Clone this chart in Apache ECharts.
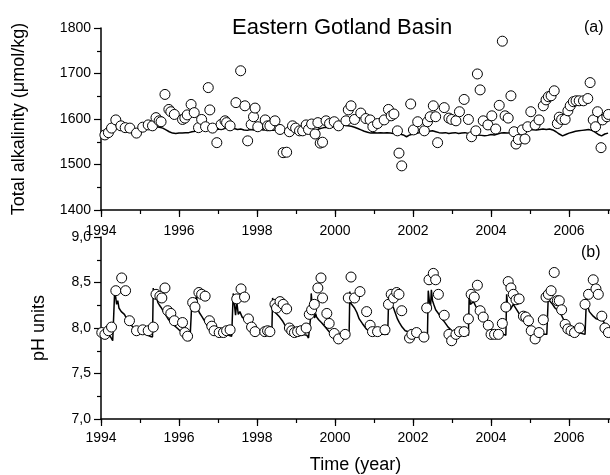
<!DOCTYPE html>
<html>
<head>
<meta charset="utf-8">
<script src="https://cdn.jsdelivr.net/npm/echarts@6/dist/echarts.min.js"></script>
<style>
html,body{margin:0;padding:0;background:#fff;}
#chart{width:610px;height:475px;}
</style>
</head>
<body>
<div id="chart"></div>
<script>
// ---- Data ----
const titleText = "Eastern Gotland Basin";
const xTickYears = [1994, 1996, 1998, 2000, 2002, 2004, 2006];

// Model total alkalinity (monthly), µmol/kg, starting Jan 1994
const alkModel = [
 1568,1564,1567,1574,1580,1584,1580,1576,1575,1572,1570,1569,
 1571,1574,1578,1580,1581,1583,1582,1580,1576,1572,1569,1568,
 1569,1569,1570,1570,1572,1573,1578,1581,1579,1576,1575,1576,
 1578,1577,1579,1580,1578,1579,1577,1578,1576,1575,1577,1576,
 1578,1577,1576,1577,1576,1575,1577,1576,1575,1576,1577,1576,
 1575,1574,1575,1577,1578,1576,1574,1578,1580,1582,1581,1583,
 1584,1585,1587,1586,1585,1584,1582,1579,1576,1573,1571,1569,
 1570,1569,1570,1569,1570,1569,1568,1568,1567,1565,1561,1565,
 1567,1568,1570,1572,1571,1573,1574,1572,1570,1569,1570,1568,
 1569,1570,1568,1569,1570,1568,1567,1566,1565,1564,1563,1564,
 1566,1565,1567,1569,1570,1569,1570,1572,1571,1573,1574,1575,
 1576,1577,1576,1577,1578,1577,1578,1576,1572,1567,1563,1566,
 1569,1571,1573,1574,1575,1576,1577,1575,1571,1566,1563,1567,
 1569
];

// Observed total alkalinity
const alkObsYear = [
 1994.10,1994.19,1994.27,1994.38,1994.51,1994.62,1994.74,1994.91,1995.07,1995.21,
 1995.32,1995.41,1995.49,1995.54,1995.64,1995.74,1995.79,1995.88,1996.09,1996.15,
 1996.21,1996.31,1996.39,1996.50,1996.58,1996.68,1996.75,1996.79,1996.86,1996.97,
 1997.08,1997.18,1997.22,1997.31,1997.46,1997.58,1997.69,1997.76,1997.85,1997.91,
 1997.95,1998.02,1998.21,1998.27,1998.33,1998.46,1998.59,1998.67,1998.76,1998.83,
 1998.91,1998.99,1999.09,1999.17,1999.26,1999.32,1999.40,1999.49,1999.56,1999.62,
 1999.68,1999.77,1999.86,1999.98,2000.09,2000.28,2000.34,2000.41,2000.50,2000.66,
 2000.79,2000.90,2000.97,2001.09,2001.26,2001.37,2001.44,2001.51,2001.60,2001.64,
 2001.71,2001.94,2002.01,2002.12,2002.29,2002.37,2002.44,2002.52,2002.58,2002.63,
 2002.80,2002.92,2002.99,2003.10,2003.19,2003.31,2003.42,2003.50,2003.61,2003.65,
 2003.72,2003.80,2003.92,2004.02,2004.12,2004.21,2004.29,2004.36,2004.44,2004.51,
 2004.59,2004.64,2004.70,2004.80,2004.87,2004.94,2005.02,2005.13,2005.23,2005.34,
 2005.41,2005.47,2005.54,2005.62,2005.70,2005.75,2005.81,2005.90,2005.97,2006.03,
 2006.11,2006.18,2006.26,2006.37,2006.48,2006.54,2006.62,2006.68,2006.73,2006.82,
 2006.86,2006.97,2007.01
];
const alkObs = [
 1565,1570,1580,1598,1585,1581,1580,1569,1582,1587,
 1585,1603,1596,1594,1654,1621,1616,1610,1599,1602,
 1609,1632,1614,1581,1599,1583,1669,1620,1580,1548,
 1588,1596,1592,1585,1636,1706,1629,1552,1588,1605,
 1624,1583,1598,1585,1585,1596,1577,1526,1527,1572,
 1585,1580,1574,1574,1587,1577,1589,1567,1592,1547,
 1549,1596,1590,1594,1585,1596,1620,1629,1599,1613,
 1601,1598,1583,1590,1598,1621,1607,1611,1574,1525,
 1497,1633,1576,1594,1574,1594,1605,1629,1605,1548,
 1625,1602,1599,1596,1616,1643,1599,1561,1574,1699,
 1664,1596,1587,1607,1578,1630,1771,1607,1602,1651,
 1572,1545,1555,1576,1556,1583,1616,1587,1598,1629,
 1642,1649,1651,1662,1590,1604,1599,1599,1618,1629,
 1638,1640,1640,1640,1645,1680,1598,1583,1616,1537,
 1598,1605,1610
];

// Model pH
const phModelYear = [
 1994.00,1994.08,1994.17,1994.25,1994.30,1994.33,1994.35,1994.38,1994.40,1994.43,
 1994.46,1994.49,1994.52,1994.55,1994.60,1994.65,1994.70,1994.78,1994.85,1994.95,
 1995.05,1995.15,1995.25,1995.32,1995.34,1995.37,1995.39,1995.42,1995.46,1995.50,
 1995.55,1995.60,1995.65,1995.72,1995.80,1995.90,1996.00,1996.10,1996.20,1996.28,
 1996.31,1996.33,1996.37,1996.41,1996.45,1996.48,1996.52,1996.58,1996.65,1996.72,
 1996.80,1996.90,1997.00,1997.10,1997.20,1997.35,1997.39,1997.42,1997.45,1997.48,
 1997.52,1997.56,1997.62,1997.70,1997.80,1997.90,1998.00,1998.12,1998.25,1998.38,
 1998.40,1998.43,1998.47,1998.52,1998.58,1998.65,1998.72,1998.80,1998.90,1999.00,
 1999.15,1999.28,1999.32,1999.37,1999.39,1999.42,1999.45,1999.48,1999.50,1999.53,
 1999.58,1999.65,1999.75,1999.85,2000.00,2000.15,2000.30,2000.36,2000.38,2000.41,
 2000.45,2000.50,2000.56,2000.62,2000.70,2000.80,2000.90,2001.05,2001.20,2001.35,
 2001.38,2001.41,2001.45,2001.50,2001.55,2001.60,2001.65,2001.72,2001.80,2001.95,
 2002.10,2002.25,2002.37,2002.39,2002.42,2002.45,2002.47,2002.50,2002.53,2002.58,
 2002.65,2002.72,2002.80,2002.90,2003.00,2003.15,2003.30,2003.42,2003.44,2003.47,
 2003.50,2003.55,2003.63,2003.72,2003.80,2003.93,2004.06,2004.20,2004.32,2004.38,
 2004.40,2004.43,2004.49,2004.57,2004.66,2004.79,2004.96,2005.13,2005.30,2005.43,
 2005.46,2005.47,2005.50,2005.56,2005.64,2005.77,2005.90,2006.07,2006.24,2006.41,
 2006.44,2006.45,2006.48,2006.52,2006.56,2006.62,2006.70,2006.78,2006.84,2006.92,
 2007.05
];
const phModel = [
 7.96,7.95,7.93,7.90,7.86,7.84,8.40,8.33,8.26,8.30,
 8.22,8.24,8.18,8.20,8.15,8.13,8.07,8.03,7.99,7.97,
 7.95,7.93,7.91,7.90,8.44,8.32,8.41,8.34,8.28,8.25,
 8.22,8.18,8.15,8.10,8.06,8.02,7.98,7.95,7.90,7.86,
 7.86,8.29,8.25,8.27,8.35,8.22,8.17,8.13,8.08,8.03,
 7.99,7.96,7.94,7.93,7.93,7.91,8.38,8.26,8.14,8.29,
 8.15,8.18,8.12,8.09,8.04,8.00,7.97,7.96,7.96,7.95,
 8.33,8.24,8.17,8.15,8.12,8.08,8.03,7.99,7.96,7.94,
 7.93,7.92,7.89,8.10,8.38,8.22,8.15,8.11,8.16,8.12,
 8.09,8.06,8.01,7.96,7.94,7.93,7.92,7.91,8.40,8.27,
 8.25,8.22,8.17,8.10,8.05,7.99,7.96,7.94,7.93,7.93,
 8.40,8.29,8.25,8.22,8.16,8.10,8.06,8.01,7.97,7.95,
 7.94,7.93,7.93,8.41,8.29,8.24,8.42,8.30,8.26,8.20,
 8.16,8.11,8.07,8.01,7.97,7.94,7.93,7.92,8.37,8.26,
 8.26,8.29,8.22,8.16,8.11,8.02,7.95,7.94,7.93,7.92,
 8.37,8.22,8.20,8.26,8.20,8.11,8.02,7.95,7.93,7.93,
 7.92,8.37,8.30,8.27,8.22,8.17,8.06,7.98,7.95,7.93,
 7.92,8.37,8.24,8.18,8.18,8.13,8.10,8.09,8.11,8.04,
 7.97
];

// Observed pH
const phObsYear = [
 1994.02,1994.10,1994.19,1994.27,1994.38,1994.53,1994.63,1994.73,1994.91,1995.07,
 1995.21,1995.34,1995.41,1995.51,1995.56,1995.64,1995.71,1995.79,1995.88,1996.09,
 1996.15,1996.22,1996.35,1996.41,1996.51,1996.58,1996.67,1996.78,1996.84,1996.90,
 1997.03,1997.14,1997.22,1997.31,1997.48,1997.59,1997.68,1997.78,1997.86,1997.95,
 1998.20,1998.27,1998.33,1998.46,1998.50,1998.59,1998.67,1998.76,1998.83,1998.89,
 1998.96,1999.04,1999.13,1999.26,1999.34,1999.40,1999.47,1999.56,1999.64,1999.68,
 1999.79,1999.85,1999.98,2000.09,2000.26,2000.34,2000.41,2000.50,2000.64,2000.81,
 2000.90,2000.96,2001.09,2001.28,2001.37,2001.44,2001.50,2001.58,2001.64,2001.71,
 2001.91,2001.97,2002.09,2002.28,2002.35,2002.41,2002.52,2002.58,2002.65,2002.80,
 2002.92,2002.99,2003.10,2003.19,2003.31,2003.42,2003.49,2003.57,2003.65,2003.72,
 2003.80,2003.93,2004.00,2004.09,2004.19,2004.29,2004.38,2004.44,2004.51,2004.57,
 2004.64,2004.72,2004.83,2004.89,2004.96,2005.03,2005.13,2005.23,2005.34,2005.41,
 2005.47,2005.54,2005.62,2005.70,2005.75,2005.81,2005.90,2005.97,2006.05,2006.14,
 2006.27,2006.41,2006.50,2006.62,2006.69,2006.75,2006.84,2006.92,2007.01
];
const phObs = [
 7.95,7.93,7.97,8.01,8.41,8.55,8.41,8.08,7.97,7.98,
 7.97,8.01,8.37,8.35,8.33,8.44,8.19,8.16,8.08,8.06,
 7.95,7.91,8.28,8.23,8.39,8.37,8.35,8.08,8.02,7.97,
 7.95,7.95,7.97,7.98,8.32,8.43,8.34,8.10,8.01,7.96,
 7.96,7.97,7.96,8.26,8.22,8.29,8.26,8.21,8.00,7.97,
 7.95,7.96,7.97,8.00,8.15,8.20,8.26,8.44,8.55,8.33,
 8.16,8.05,7.94,7.88,7.93,8.33,8.56,8.33,8.40,8.18,
 8.03,7.96,7.96,7.98,8.26,8.37,8.33,8.39,8.37,8.19,
 7.89,7.93,7.95,7.90,8.22,8.53,8.60,8.53,8.37,8.14,
 7.93,7.86,7.93,7.96,7.96,8.10,8.37,8.34,8.47,8.19,
 8.12,8.03,7.93,7.93,7.93,8.05,8.23,8.51,8.44,8.37,
 8.31,8.32,8.13,8.12,8.08,7.97,7.88,7.95,8.09,8.34,
 8.37,8.41,8.61,8.30,8.30,8.20,8.04,7.99,7.97,7.95,
 8.00,8.26,8.37,8.53,8.43,8.37,8.13,8.00,7.95
];

// ---- Build ----
const alkModelYear = alkModel.map((_, i) => 1994 + i / 12);
const pair = (xs, ys) => xs.map((x, i) => [x, ys[i]]);

const FONT = "'Liberation Sans', Arial, sans-serif";
const XMIN = 1994, XMAX = 2007.05;
const G_LEFT = 101, G_W = 509;

function majorX(gridIndex, showLabels, name) {
  return {
    type: 'value', gridIndex, position: 'bottom', min: XMIN, max: XMAX, interval: 2,
    axisLine: { show: true, onZero: false, lineStyle: { color: '#000', width: 1.5 } },
    axisTick: { show: true, length: 7, lineStyle: { color: '#000', width: 1.2 } },
    axisLabel: {
      show: showLabels, margin: gridIndex === 0 ? 14 : 12, color: '#000', fontSize: 14, fontFamily: FONT,
      showMaxLabel: false,
      formatter: v => (xTickYears.indexOf(Math.round(v)) >= 0 && Math.abs(v - Math.round(v)) < 1e-6) ? String(Math.round(v)) : ''
    },
    splitLine: { show: false },
    name: name || '', nameLocation: 'middle', nameGap: 37,
    nameTextStyle: { color: '#000', fontSize: 18, fontFamily: FONT }
  };
}
function minorX(gridIndex) {
  return {
    type: 'value', gridIndex, position: 'bottom', min: XMIN, max: XMAX, interval: 1,
    axisLine: { show: false, onZero: false },
    axisTick: { show: true, length: 4, lineStyle: { color: '#000', width: 1.2 } },
    axisLabel: { show: false },
    splitLine: { show: false }
  };
}

const option = {
  animation: false,
  backgroundColor: '#fff',
  grid: [
    { left: G_LEFT, top: 28, width: G_W, height: 182 },
    { left: G_LEFT, top: 237, width: G_W, height: 183 }
  ],
  xAxis: [
    majorX(0, true), minorX(0),
    majorX(1, true, 'Time (year)'), minorX(1)
  ],
  yAxis: [
    {
      type: 'value', gridIndex: 0, min: 1400, max: 1800, interval: 100,
      axisLine: { show: true, onZero: false, lineStyle: { color: '#000', width: 1.5 } },
      axisTick: { show: true, length: 7, lineStyle: { color: '#000', width: 1.2 } },
      minorTick: { show: true, splitNumber: 2, length: 4, lineStyle: { color: '#000', width: 1.2 } },
      axisLabel: { margin: 10, color: '#000', fontSize: 14, fontFamily: FONT,
        formatter: v => String(Math.round(v)) },
      splitLine: { show: false },
      name: 'Total alkalinity (\u03bcmol/kg)', nameLocation: 'middle', nameGap: 73,
      nameTextStyle: { color: '#000', fontSize: 18, fontFamily: FONT }
    },
    {
      type: 'value', gridIndex: 1, min: 7, max: 9, interval: 0.5,
      axisLine: { show: true, onZero: false, lineStyle: { color: '#000', width: 1.5 } },
      axisTick: { show: true, length: 7, lineStyle: { color: '#000', width: 1.2 } },
      minorTick: { show: true, splitNumber: 2, length: 4, lineStyle: { color: '#000', width: 1.2 } },
      axisLabel: { margin: 10, color: '#000', fontSize: 14, fontFamily: FONT,
        formatter: v => v.toFixed(1).replace('.', ',') },
      splitLine: { show: false },
      name: 'pH units', nameLocation: 'middle', nameGap: 53,
      nameTextStyle: { color: '#000', fontSize: 18, fontFamily: FONT }
    }
  ],
  graphic: [
    { type: 'text', left: 232, top: 17, style: { text: titleText, fontSize: 22, fontFamily: FONT, fill: '#000' } },
    { type: 'text', left: 584, top: 20, style: { text: '(a)', fontSize: 16, fontFamily: FONT, fill: '#000' } },
    { type: 'text', left: 581, top: 245, style: { text: '(b)', fontSize: 16, fontFamily: FONT, fill: '#000' } }
  ],
  series: [
    {
      type: 'line', xAxisIndex: 0, yAxisIndex: 0, data: pair(alkModelYear, alkModel),
      showSymbol: false, symbol: 'none', lineStyle: { color: '#000', width: 1.5 }, z: 2
    },
    {
      type: 'scatter', xAxisIndex: 0, yAxisIndex: 0, data: pair(alkObsYear, alkObs),
      symbol: 'circle', symbolSize: 10,
      itemStyle: { color: '#fff', borderColor: '#000', borderWidth: 1, opacity: 1 }, z: 3
    },
    {
      type: 'line', xAxisIndex: 2, yAxisIndex: 1, data: pair(phModelYear, phModel),
      showSymbol: false, symbol: 'none', lineStyle: { color: '#000', width: 1.5 }, z: 2
    },
    {
      type: 'scatter', xAxisIndex: 2, yAxisIndex: 1, data: pair(phObsYear, phObs),
      symbol: 'circle', symbolSize: 10,
      itemStyle: { color: '#fff', borderColor: '#000', borderWidth: 1, opacity: 1 }, z: 3
    }
  ]
};

const chart = echarts.init(document.getElementById('chart'), null, { renderer: 'canvas' });
chart.setOption(option);
</script>
</body>
</html>
